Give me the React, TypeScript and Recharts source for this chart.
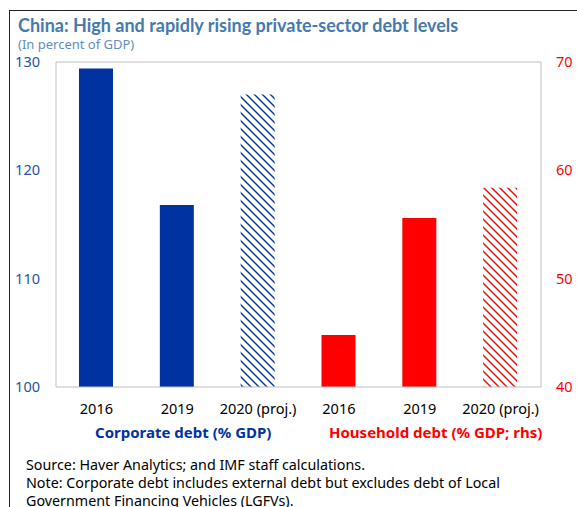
import { BarChart, Bar, XAxis, YAxis, Cell, ReferenceLine } from "recharts";

const categories = ["2016", "2019", "2020 (proj.)", "2016", "2019", "2020 (proj.)"];
const corporateDebt = [129.4, 116.8, 127.0, null, null, null];
const householdDebt = [null, null, null, 44.8, 55.6, 58.4];
const projected = [false, false, true, false, false, true];
const leftTicks = [100, 110, 120, 130];
const rightTicks = [40, 50, 60, 70];

const BLUE = "#0033a1";
const RED = "#ff0000";
const GRID = "#c0c0c0";
const FONT = "'Noto Sans', sans-serif";

const data = categories.map((year, i) => ({
  year,
  corporate: corporateDebt[i],
  household: householdDebt[i],
}));

export default function App() {
  return (
    <div
      style={{
        position: "absolute",
        left: 0,
        top: 0,
        width: 577,
        height: 507,
        overflow: "hidden",
        background: "#fff",
        fontFamily: FONT,
      }}
    >
      <svg width={0} height={0} style={{ position: "absolute" }}>
        <defs>
          <pattern id="hatchBlue" width={8} height={8} patternUnits="userSpaceOnUse">
            <path d="M0,0 L8,8 M-2,6 L2,10 M6,-2 L10,2" stroke={BLUE} strokeWidth={1.4} />
          </pattern>
          <pattern id="hatchRed" width={8} height={8} patternUnits="userSpaceOnUse">
            <path d="M0,0 L8,8 M-2,6 L2,10 M6,-2 L10,2" stroke={RED} strokeWidth={1.4} />
          </pattern>
        </defs>
      </svg>
      <div
        style={{
          position: "absolute",
          left: 9,
          top: 10,
          width: 700,
          height: 700,
          border: "1.5px solid #222",
        }}
      />
      <div
        style={{
          position: "absolute",
          left: 18,
          top: 14,
          fontFamily: "Lato, sans-serif",
          fontSize: 18,
          fontWeight: 700,
          color: "#4679ac",
        }}
      >
        China: High and rapidly rising private-sector debt levels
      </div>
      <div
        style={{
          position: "absolute",
          left: 18,
          top: 37,
          fontSize: 13,
          lineHeight: "15px",
          color: "#5b8fc6",
        }}
      >
        (In percent of GDP)
      </div>

      <div style={{ position: "absolute", left: 0, top: 0 }}>
        <BarChart
          width={577}
          height={507}
          data={data}
          margin={{ top: 62, right: 0, left: 10, bottom: 90 }}
        >
          <XAxis
            xAxisId="corp"
            dataKey="year"
            interval={0}
            height={30}
            tickSize={0}
            tickMargin={17}
            axisLine={{ stroke: GRID }}
            tick={{ fill: "#000", fontSize: 14.5, fontFamily: FONT }}
          />
          <XAxis xAxisId="hh" dataKey="year" hide />
          <YAxis
            yAxisId="left"
            domain={[100, 130]}
            ticks={leftTicks}
            width={46}
            tickSize={0}
            tickMargin={16}
            axisLine={{ stroke: GRID }}
            tick={{ fill: "#2450b0", fontSize: 14.5, fontFamily: FONT }}
          />
          <YAxis
            yAxisId="right"
            orientation="right"
            domain={[40, 70]}
            ticks={rightTicks}
            width={36}
            tickSize={0}
            tickMargin={15}
            axisLine={{ stroke: GRID }}
            tick={{ fill: RED, fontSize: 14.5, fontFamily: FONT }}
          />
          <ReferenceLine xAxisId="corp" yAxisId="left" y={130} stroke={GRID} />
          <Bar xAxisId="corp" yAxisId="left" dataKey="corporate" barSize={34} isAnimationActive={false}>
            {data.map((_, i) => (
              <Cell key={`c-${i}`} fill={projected[i] ? "url(#hatchBlue)" : BLUE} />
            ))}
          </Bar>
          <Bar xAxisId="hh" yAxisId="right" dataKey="household" barSize={34} isAnimationActive={false}>
            {data.map((_, i) => (
              <Cell key={`h-${i}`} fill={projected[i] ? "url(#hatchRed)" : RED} />
            ))}
          </Bar>
        </BarChart>
      </div>

      <div
        style={{
          position: "absolute",
          left: 95,
          top: 424,
          fontSize: 15,
          lineHeight: "16px",
          fontWeight: 700,
          color: BLUE,
        }}
      >
        Corporate debt (% GDP)
      </div>
      <div
        style={{
          position: "absolute",
          left: 329,
          top: 424,
          fontSize: 15,
          lineHeight: "16px",
          fontWeight: 700,
          color: RED,
        }}
      >
        Household debt (% GDP; rhs)
      </div>

      <div style={{ position: "absolute", left: 26, top: 456, fontSize: 14.3, lineHeight: "18px", color: "#000" }}>
        <div>Source: Haver Analytics; and IMF staff calculations.</div>
        <div>Note: Corporate debt includes external debt but excludes debt of Local</div>
        <div>Government Financing Vehicles (LGFVs).</div>
      </div>
    </div>
  );
}
